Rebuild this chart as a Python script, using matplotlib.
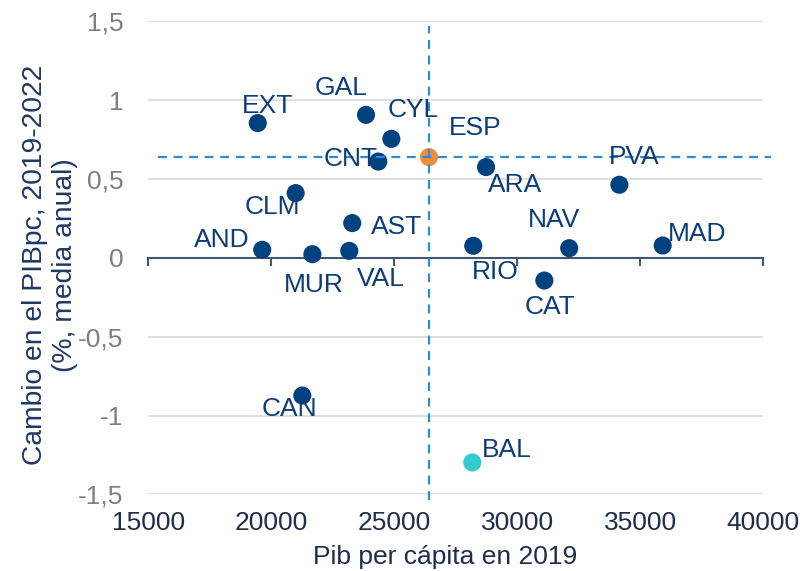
import matplotlib
matplotlib.use("Agg")
import matplotlib.pyplot as plt

plt.rcParams['font.family'] = ['Liberation Sans', 'DejaVu Sans']

regions = ["EXT", "GAL", "CYL", "CNT", "ESP", "ARA", "PVA", "CLM", "AST",
           "AND", "MUR", "VAL", "RIO", "NAV", "MAD", "CAT", "CAN", "BAL"]
pib_2019 = [19450, 23850, 24880, 24350, 26410, 28730, 34150, 20990, 23290,
            19630, 21670, 23170, 28210, 32110, 35910, 31100, 21260, 28170]
cambio = [0.854, 0.906, 0.754, 0.610, 0.638, 0.575, 0.463, 0.410, 0.220,
          0.051, 0.023, 0.044, 0.076, 0.061, 0.078, -0.144, -0.873, -1.297]
# label offsets in points (style)
offsets = {
    "EXT": (7, 12), "GAL": (-18, 19), "CYL": (16, 21), "CNT": (-20, 2),
    "ESP": (33, 21), "ARA": (21, -13), "PVA": (11, 20), "CLM": (-17, -10),
    "AST": (32, -3), "AND": (-29, 7), "MUR": (1, -22), "VAL": (23, -20),
    "RIO": (16, -19), "NAV": (-11, 20), "MAD": (25, 8), "CAT": (4, -19),
    "CAN": (-9, -10), "BAL": (25, 9),
}

x_ticks = [15000, 20000, 25000, 30000, 35000, 40000]
y_ticks = [-1.5, -1, -0.5, 0, 0.5, 1, 1.5]
y_tick_labels = ["-1,5", "-1", "-0,5", "0", "0,5", "1", "1,5"]

navy = "#00427F"
orange = "#F08C3A"
teal = "#33CCCC"
dash_blue = "#2E8BD6"

FS = 19

fig = plt.figure(figsize=(8.06, 5.71), dpi=100)
ax = fig.add_axes([0.184, 0.134, 0.763, 0.829])
ax.set_xlim(15000, 40000)
ax.set_ylim(-1.5, 1.5)

for s in ["top", "right", "left", "bottom"]:
    ax.spines[s].set_visible(False)

ax.set_yticks(y_ticks)
ax.set_yticklabels(y_tick_labels)
ax.grid(axis="y", color="#D9D9D9", linewidth=1.2, zorder=0)
ax.set_axisbelow(True)
ax.tick_params(axis="y", length=0, labelsize=FS, labelcolor="#7F7F7F", pad=18)

ax.set_xticks(x_ticks)
ax.tick_params(axis="x", length=0, labelsize=FS, labelcolor="#1F2D4D", pad=12)

# zero axis line with downward tick marks
ax.axhline(0, color="#44546A", linewidth=1.5, zorder=2)
for xt in x_ticks:
    ax.plot([xt, xt], [0, -0.045], color="#44546A", linewidth=1.5, zorder=2,
            clip_on=False)

colors = []
for r in regions:
    if r == "ESP":
        colors.append(orange)
    elif r == "BAL":
        colors.append(teal)
    else:
        colors.append(navy)

ax.scatter(pib_2019, cambio, s=170, c=colors, zorder=4, linewidths=0)

# reference lines at Spain (drawn over the markers)
i_esp = regions.index("ESP")
ax.axhline(cambio[i_esp], xmin=0.015, xmax=1.012, color=dash_blue,
           linestyle=(0, (4, 3)), linewidth=1.6, clip_on=False, zorder=5)
ax.axvline(pib_2019[i_esp], ymin=-0.012, ymax=0.99, color=dash_blue,
           linestyle=(0, (4, 3)), linewidth=1.6, clip_on=False, zorder=5)

for r, x, y in zip(regions, pib_2019, cambio):
    dx, dy = offsets[r]
    ax.annotate(r, (x, y), xytext=(dx, dy), textcoords="offset points",
                ha="center", va="center", fontsize=FS, color="#0B3D78",
                zorder=6)

ax.set_xlabel("Pib per cápita en 2019", fontsize=FS, color="#1F2D4D")
ax.xaxis.set_label_coords(0.483, -0.106)
ax.set_ylabel("Cambio en el PIBpc, 2019-2022\n(%, media anual)",
              fontsize=20.3, color="#1F3864", linespacing=1.2)
ax.yaxis.set_label_coords(-0.115, 0.485)

fig.savefig("out.png", dpi=100)
